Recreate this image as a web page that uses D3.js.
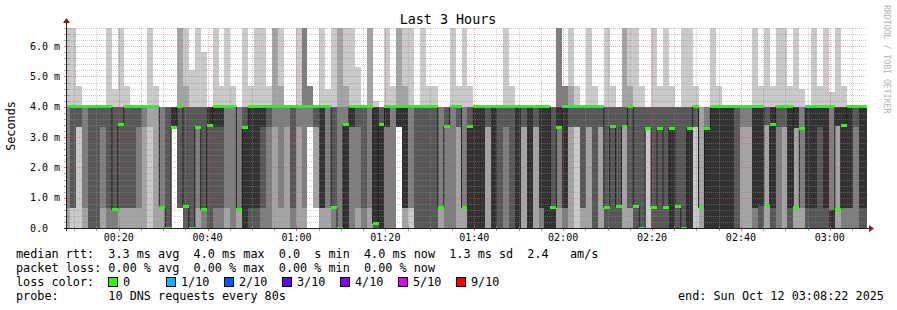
<!DOCTYPE html>
<html><head><meta charset="utf-8">
<script src="https://cdn.jsdelivr.net/npm/d3@7/dist/d3.min.js"></script>
<style>
body{margin:0;background:#fff;}
svg{display:block;}
text{font-family:"DejaVu Sans Mono",monospace;white-space:pre;}
</style></head><body>
<svg id="c" width="897" height="310"></svg>
<script>
// ---------------- data ----------------
const title = "Last 3 Hours";
const viewStart = "2025-10-12T00:08:22";
const viewEnd = "2025-10-12T03:08:22";
const stepStart = "2025-10-12T00:07:48";
const stepSeconds = 80;
// 10 sorted ping times (ms) for each 80 s step
const smoke = [
[0,0,0.67,4,4,4,4,4,4,6.6],[0,0.67,0.67,0.67,4,4,4,4,4,6.6],[0,3.33,3.33,3.33,4,4,4,4,4,4.67],[0,0,0.67,4,4,4,4,4,4,4],
[0,0,0,0,4,4,4,4,4,4],[0,0,0,0,4,4,4,4,4,4],[0,0,0.67,3.33,4,4,4,4,4,4],[0,0,0,0.67,4,4,4,4,4,6.6],
[0,0,0,0.6,0.6,0.6,4,4,4,4.6],[0,0,0.67,0.67,3.4,3.4,4,4,4,6.6],[0,0,0.67,0.67,4,4,4,4,4,4.67],[0,0,0.67,0.67,4,4,4,4,4,4],
[0,0,0.67,3.33,4,4,4,4,4,4],[0,0,3.33,4,4,4,4,4,4,4],[0,3.33,4,4,4,4,4,4,4,6.6],[0,0,4,4,4,4,4,4,4,4.67],
[0,0,0.67,0.67,0.67,0.67,0.67,4,4,4],[0,0,0,0,0,0,4,4,4,4],[3.33,3.33,3.33,3.33,3.33,4,4,4,4,4],[0.67,0.67,0.67,0.67,4,4,4,4,6.6,6.6],
[0,0,0,0,0.72,0.72,4,4,4.67,6.6],[0,0,0,0,0,0,4,4,4,5.2],[0,0,0.67,3.33,3.33,3.33,4,4,4,6.6],[0,0,0,0.6,0.6,0.6,4,4,4,5.8],
[0,0,0,0,3.38,4,4,4,4,4],[0,0,0,0.67,3.33,4,4,4,4,6.6],[0,0,0,0.67,3.33,4,4,4,4,4.67],[0,0,0.67,4,4,4,4,4,4,6.6],
[0,0,0,4,4,4,4,4,4,4.67],[0,0,0.6,0.6,0.6,0.6,0.6,4,4,4],[0,0,0,0,0,3.33,4,4,4,6.6],[0,0,0,0,0.67,4,4,4,4,4.67],
[0,0,0,0,0.67,4,4,4,4,6.6],[0,0,0,0.67,3.33,4,4,4,4,6.6],[0,0,0,3.33,4,4,4,4,4,4.67],[0,0,3.33,4,4,4,4,4,6.6,6.6],
[0,0,0.67,4,4,4,4,4,4.67,6.6],[0,0,3.33,4,4,4,4,4,4,4],[0,0,0,0.67,4,4,4,4,4,4],[0,0,3.33,4,4,4,4,4,4,6.6],
[0,0,0.67,4,4,4,4,6.6,6.6,6.6],[3.33,3.33,3.33,4,4,4,4,4.67,4.67,4.67],[0.67,0.67,3.33,3.33,4,4,4,4,4,4],[0,0,0.67,0.67,0.67,4,4,4,4,6.6],
[0,0,0.67,4,4,4,4,4,4,4.6],[0,0,0,0.67,0.67,0.67,4,4,4,6.6],[0,0,0,0,0,0,0,4,6.6,6.6],[0,0,0,0,0,3.4,3.4,4,4.67,6.6],
[0,0,0,3.33,3.33,4,4,4,4,6.6],[0,0,0.67,3.33,4,4,4,4,4,5.3],[0,0,0,0.67,4,4,4,4,4,4],[0,0,0.67,4,4,4,4,4,6.6,6.6],
[0,0,0,0,0.15,4,4,4,4,4.2],[0,0,0,0,0,3.4,4,4,4,4],[0,0,0,3.33,3.33,4,4,4,4,6.6],[0,0,0,4,4,4,4,4,4,4.67],
[3.33,3.33,3.33,3.33,3.33,4,4,4,6.6,6.6],[0,0,0.67,0.67,0.67,4,4,4,4.67,6.6],[0,0.67,0.67,4,4,4,4,4,4,6.6],[0,0,0,0,4,4,4,4,4,4],
[0,0,0,0,4,4,4,4,4,6.6],[0,0,0,0,4,4,4,4,4,4.67],[0,0,0,0,4,4,4,4,4,4.67],[0,0,0.67,0.67,0.67,0.67,0.67,4,4,4],
[0,0,0,3.35,3.35,3.35,4,4,4,4],[0,0,0,4,4,4,4,4,4,6.6],[0,0,3.33,3.33,4,4,4,4,4,4.67],[0,0,0.67,0.67,0.67,0.67,0.67,4,4,6.6],
[0,0,0,0,0,3.35,4,4,4,4.67],[0,0,0,0,0,4,4,4,4,4],[0,0,0,0,0,4,4,4,4,4],[0,0,3.33,3.33,4,4,4,4,4,4],
[0,0,0,0,0,4,4,4,4,4],[0,0,0,0,4,4,4,4,4,4],[0,0,0,3.33,4,4,4,4,4,6.6],[0,0,0,0,4,4,4,4,4,4.67],
[0,0,0,0,0,4,4,4,4,4],[0,0,3.33,3.33,4,4,4,4,4,4],[0,0,0,0,0,4,4,4,4,4],[0,0,3.33,3.33,4,4,4,4,4,4],
[0,0,0,0.67,0.67,4,4,4,4,4],[0,0,0,0,0,4,4,4,4,4],[0,0,0,0,0,0.67,4,4,4,4],[0,0,0.67,3.33,3.33,4,4,6.6,6.6,6.6],
[0,0,0,0.67,0.67,4,4,4.67,4.67,4.67],[0,0,3.33,3.33,4,4,4,4,4.67,6.6],[0,3.33,3.33,3.33,4,4,4,4,4,4.67],[0,0,0.67,0.67,4,4,4,4,4,4],
[0,0,3.33,3.33,4,4,4,4,4,6.6],[0,0,0,0,4,4,4,4,4,4.67],[0,0,3.33,3.33,4,4,4,4,4,4],[0,0,0,0,0.67,0.67,4,4,4,6.6],
[0,0,0,0,3.35,3.35,4,4,4,4.67],[0,0,0,0,0.72,0.72,4,4,4,4],[0,0,3.35,3.35,3.35,3.35,4,4,6.6,6.6],[0,0,0.67,0.67,4,4,4,4,4.67,6.6],
[0,0,0,0,0.72,0.72,4,4,4,6.6],[0,0,0,0,0,0,4,4,4,4.67],[0,3.3,3.3,3.3,3.3,3.3,4,4,4,4],[0,0,0,0,0.67,0.67,4,4,4,6.6],
[0,0,0,0,3.3,3.3,4,4,4,4.67],[0,0,0,0,0.67,0.67,4,4,4,6.6],[0,0,0,0,0,3.3,4,4,4,4.67],[0,0,0,0,0.72,0.72,4,4,4,4],
[0,0,0,0,0,0,4,4,4,6.6],[0,0,0,0,0,3.3,4,4,4,6.6],[0,3.33,3.33,3.33,4,4,4,4,4,4.67],[0,0,0.67,0.67,0.67,0.67,0.67,0.67,4,4],
[0,0,0,0,0,3.3,3.3,4,4,4],[0,0,0,0,0,4,4,4,4,6.6],[0,0,0,0,0,4,4,4,4,4.67],[0,0,0,0,0,4,4,4,4,4],
[0,0,0,0,0,4,4,4,4,4],[0,0,0,0,4,4,4,4,4,4],[0,0,3.33,4,4,4,4,4,4,4],[0,0,3.33,4,4,4,4,4,4,4],
[0,0,0,0.67,0.67,4,4,4,4,6.6],[0,0,0,0,0.72,4,4,4,4,4.67],[0,0,3.4,3.4,3.4,3.4,4,4,4,6.6],[0,0,0,0,0.67,4,4,4,4,4.67],
[0,0,0,3.33,4,4,4,4,4,6.6],[0,0,3.33,3.33,4,4,4,4,4,6.6],[0,0,0,0,0.67,4,4,4,4,4.67],[0,0,3.3,3.3,3.3,4,4,4,4,6.6],
[0,0,0.67,4,4,4,4,4,4,4.6],[0,0,0,0,0.67,4,4,4,4,4],[0,0,0,0,0.67,4,4,4,4,6.6],[0,0,0,0,3.33,4,4,4,4,4.67],
[0,0,0,0,0.67,4,4,4,4,6.6],[0,0,0,0,0,0.6,0.6,4,4,4.5],[0,0,3.38,3.38,3.38,4,4,4,4,6.6],[0,0,0,0.67,0.67,4,4,4,4,4.67],
[0,0,0,0.67,0.67,4,4,4,4,4],[0,0,0,3.33,4,4,4,4,4,4],[0,0,0,0,0.67,4,4,4,4,4],[0,0,0,0,0.67,4,4,4,4,4]
];
// median rtt (ms) for each step
const median = [
4,4,4,4,4,4,4,4,0.6,3.4,4,4,4,4,4,4,0.67,0,3.33,4,0.72,0,3.33,0.6,3.38,4,4,4,4,0.6,
3.33,4,4,4,4,4,4,4,4,4,4,4,4,4,4,0.67,0,3.4,4,4,4,4,0.15,3.4,4,4,4,4,4,4,
4,4,4,0.67,3.35,4,4,0.67,3.35,4,4,4,4,4,4,4,4,4,4,4,4,4,0.67,3.33,4,4,4,4,4,4,
4,0.67,3.35,0.72,3.35,4,0.72,0,3.3,0.67,3.3,0.67,3.3,0.72,0,3.3,4,0.67,3.3,4,4,4,4,4,4,4,
4,4,0.72,3.4,4,4,4,0.67,3.3,4,4,4,4,4,0.6,3.38,4,4,4,4,4
];
const yTicks = [0,1,2,3,4,5,6];
const yTickLabels = ["0.0","1.0 m","2.0 m","3.0 m","4.0 m","5.0 m","6.0 m"];
const xTickLabels = ["00:20","00:40","01:00","01:20","01:40","02:00","02:20","02:40","03:00"];
const lossLabels = ["0","1/10","2/10","3/10","4/10","5/10","9/10"];
const lossColors = ["#26ff00","#00b8ff","#0059ff","#5e00ff","#7e00ff","#dd00ff","#ff0000"];
const smokeShades = ["#cacaca","#a4a4a4","#7e7e7e","#585858","#323232"];
const legendRtt = "median rtt:  3.3 ms avg  4.0 ms max  0.0  s min  4.0 ms now  1.3 ms sd  2.4   am/s";
const legendLoss = "packet loss: 0.00 % avg  0.00 % max  0.00 % min  0.00 % now";
const legendLossColor = "loss color:";
const legendProbe = "probe:       10 DNS requests every 80s";
const legendEnd = "end: Sun Oct 12 03:08:22 2025";
const yAxisTitle = "Seconds";
const watermark = "RRDTOOL / TOBI OETIKER";

// ---------------- drawing ----------------
const svg = d3.select("#c");
const L = 67, R = 867, T = 28, B = 228;
const x = d3.scaleTime().domain([new Date(viewStart), new Date(viewEnd)]).range([L, R]);
const y = d3.scaleLinear().domain([0, 6.6]).range([B, T]);
const day = viewStart.slice(0, 11);

svg.append("rect").attr("width", 897).attr("height", 310).attr("fill", "#fff");
svg.append("defs").append("clipPath").attr("id", "pc")
  .append("rect").attr("x", L).attr("y", T - 1).attr("width", R - L).attr("height", B - T + 1);

const t0 = +new Date(stepStart);
const pts = smoke.map((row, i) => ({ t: new Date(t0 + i * stepSeconds * 1000), row, m: median[i] }));
const last = pts[pts.length - 1];
const ptsE = pts.concat([{ t: new Date(t0 + pts.length * stepSeconds * 1000), row: last.row, m: last.m }]);

const plot = svg.append("g").attr("clip-path", "url(#pc)");
smokeShades.forEach((c, b) => {
  const area = d3.area().curve(d3.curveStepAfter)
    .x(d => x(d.t)).y0(d => y(d.row[b])).y1(d => y(d.row[9 - b]));
  plot.append("path").attr("d", area(ptsE)).attr("fill", c).attr("shape-rendering", "crispEdges");
});
// median staircase
const mline = d3.line().curve(d3.curveStepAfter).x(d => x(d.t)).y(d => y(d.m));
plot.append("path").attr("d", mline(ptsE)).attr("fill", "none").attr("stroke", "#202020").attr("stroke-width", 1);
// median loss-colour bars
plot.selectAll("rect.med").data(pts).join("rect").attr("class", "med")
  .attr("x", (d, i) => x(d.t)).attr("width", (d, i) => x(ptsE[i + 1].t) - x(d.t))
  .attr("y", d => y(d.m) - 1.5).attr("height", 3).attr("fill", lossColors[0])
  .attr("shape-rendering", "crispEdges");

// grid (drawn on top like rrdtool)
const grid = svg.append("g");
const minorX = d3.timeMinute.every(5).range(new Date(viewStart), new Date(viewEnd));
minorX.forEach(t => {
  const major = t.getMinutes() % 20 === 0;
  const xx = Math.round(x(t)) + 0.5;
  grid.append("line").attr("x1", xx).attr("x2", xx).attr("y1", T).attr("y2", B)
    .attr("stroke", major ? "rgba(222,79,79,0.5)" : "rgba(143,143,143,0.45)")
    .attr("stroke-dasharray", "1,1");
  grid.append("line").attr("x1", xx).attr("x2", xx).attr("y1", B - 2).attr("y2", B + 3)
    .attr("stroke", major ? "rgba(222,79,79,0.8)" : "rgba(143,143,143,0.8)");
});
d3.range(1, 34).forEach(k => {
  const v = k * 0.2;
  const major = k % 5 === 0;
  const yy = Math.round(y(v)) + 0.5;
  grid.append("line").attr("x1", L).attr("x2", R).attr("y1", yy).attr("y2", yy)
    .attr("stroke", major ? "rgba(222,79,79,0.5)" : "rgba(143,143,143,0.45)")
    .attr("stroke-dasharray", "1,1");
  grid.append("line").attr("x1", L - 3).attr("x2", L + 2).attr("y1", yy).attr("y2", yy)
    .attr("stroke", major ? "rgba(222,79,79,0.8)" : "rgba(143,143,143,0.8)");
});

// axes
svg.append("line").attr("x1", L - 3).attr("x2", R + 3).attr("y1", B + 0.5).attr("y2", B + 0.5).attr("stroke", "#1f1f1f");
svg.append("line").attr("x1", L - 0.5).attr("x2", L - 0.5).attr("y1", B + 3).attr("y2", T - 5).attr("stroke", "#1f1f1f");
svg.append("path").attr("d", `M${R + 2},${B - 3} L${R + 7},${B + 0.5} L${R + 2},${B + 4} Z`).attr("fill", "#801f1f");
svg.append("path").attr("d", `M${L - 4},${T - 5} L${L - 0.5},${T - 10} L${L + 3},${T - 5} Z`).attr("fill", "#801f1f");

// tick labels
yTicks.forEach((v, i) => {
  svg.append("text").attr("x", 30).attr("y", y(v) + 3.5).attr("font-size", "10px").attr("fill", "#000").text(yTickLabels[i]);
});
xTickLabels.forEach(lab => {
  const t = new Date(day + lab + ":00");
  svg.append("text").attr("x", x(t)).attr("y", 241).attr("text-anchor", "middle")
    .attr("font-size", "10px").attr("fill", "#000").text(lab);
});

// titles
svg.append("text").attr("x", 448).attr("y", 24).attr("text-anchor", "middle").attr("font-size", "13.4px").text(title);
svg.append("text").attr("transform", "translate(15,126) rotate(-90)").attr("text-anchor", "middle")
  .attr("font-size", "11.8px").text(yAxisTitle);
svg.append("text").attr("transform", "translate(884,5) rotate(90)").attr("font-size", "8.2px")
  .attr("fill", "#b4b4b4").text(watermark);

// legend
const fs = "11.8px";
svg.append("text").attr("x", 16).attr("y", 258).attr("font-size", fs).text(legendRtt);
svg.append("text").attr("x", 16).attr("y", 272).attr("font-size", fs).text(legendLoss);
svg.append("text").attr("x", 16).attr("y", 286).attr("font-size", fs).text(legendLossColor);
lossLabels.forEach((lab, i) => {
  const bx = 108 + 58 * i;
  svg.append("rect").attr("x", bx + 0.5).attr("y", 277.5).attr("width", 9).attr("height", 9)
    .attr("fill", lossColors[i]).attr("stroke", "#000").attr("stroke-width", 1);
  svg.append("text").attr("x", bx + 15).attr("y", 286).attr("font-size", fs).text(lab);
});
svg.append("text").attr("x", 16).attr("y", 300).attr("font-size", fs).text(legendProbe);
svg.append("text").attr("x", 678).attr("y", 300).attr("font-size", fs).text(legendEnd);
</script></body></html>
